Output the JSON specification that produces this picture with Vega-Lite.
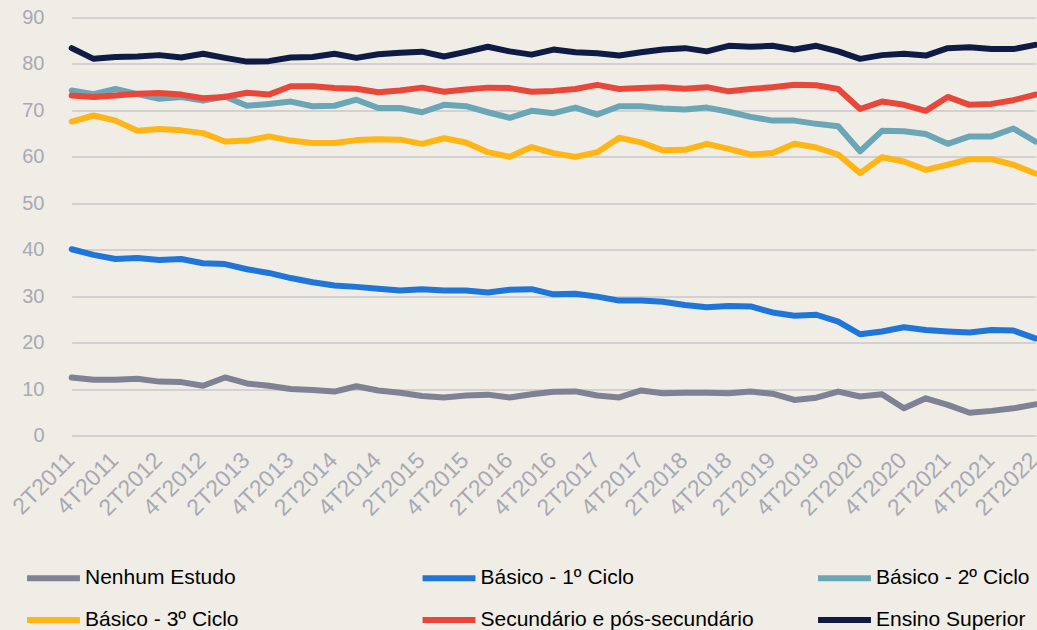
{
  "$schema": "https://vega.github.io/schema/vega-lite/v6.json",
  "autosize": "none",
  "width": 975,
  "height": 418,
  "padding": {"left": 62, "top": 17.5, "right": 0, "bottom": 194.5},
  "background": "#f0ede7",
  "config": {
    "view": {"stroke": null},
    "font": "Liberation Sans"
  },
  "datasets": {
    "d": [
      {"q":"2T2011","s":"Nenhum Estudo","v":12.5},{"q":"3T2011","s":"Nenhum Estudo","v":12.0},{"q":"4T2011","s":"Nenhum Estudo","v":12.0},{"q":"1T2012","s":"Nenhum Estudo","v":12.2},{"q":"2T2012","s":"Nenhum Estudo","v":11.6},{"q":"3T2012","s":"Nenhum Estudo","v":11.5},{"q":"4T2012","s":"Nenhum Estudo","v":10.7},{"q":"1T2013","s":"Nenhum Estudo","v":12.5},{"q":"2T2013","s":"Nenhum Estudo","v":11.2},{"q":"3T2013","s":"Nenhum Estudo","v":10.7},{"q":"4T2013","s":"Nenhum Estudo","v":10.0},{"q":"1T2014","s":"Nenhum Estudo","v":9.8},{"q":"2T2014","s":"Nenhum Estudo","v":9.45},{"q":"3T2014","s":"Nenhum Estudo","v":10.6},{"q":"4T2014","s":"Nenhum Estudo","v":9.7},{"q":"1T2015","s":"Nenhum Estudo","v":9.2},{"q":"2T2015","s":"Nenhum Estudo","v":8.5},{"q":"3T2015","s":"Nenhum Estudo","v":8.2},{"q":"4T2015","s":"Nenhum Estudo","v":8.6},{"q":"1T2016","s":"Nenhum Estudo","v":8.8},{"q":"2T2016","s":"Nenhum Estudo","v":8.2},{"q":"3T2016","s":"Nenhum Estudo","v":8.9},{"q":"4T2016","s":"Nenhum Estudo","v":9.4},{"q":"1T2017","s":"Nenhum Estudo","v":9.5},{"q":"2T2017","s":"Nenhum Estudo","v":8.6},{"q":"3T2017","s":"Nenhum Estudo","v":8.2},{"q":"4T2017","s":"Nenhum Estudo","v":9.7},{"q":"1T2018","s":"Nenhum Estudo","v":9.1},{"q":"2T2018","s":"Nenhum Estudo","v":9.2},{"q":"3T2018","s":"Nenhum Estudo","v":9.2},{"q":"4T2018","s":"Nenhum Estudo","v":9.1},{"q":"1T2019","s":"Nenhum Estudo","v":9.45},{"q":"2T2019","s":"Nenhum Estudo","v":9.0},{"q":"3T2019","s":"Nenhum Estudo","v":7.65},{"q":"4T2019","s":"Nenhum Estudo","v":8.15},{"q":"1T2020","s":"Nenhum Estudo","v":9.45},{"q":"2T2020","s":"Nenhum Estudo","v":8.4},{"q":"3T2020","s":"Nenhum Estudo","v":8.9},{"q":"4T2020","s":"Nenhum Estudo","v":5.85},{"q":"1T2021","s":"Nenhum Estudo","v":8.0},{"q":"2T2021","s":"Nenhum Estudo","v":6.6},{"q":"3T2021","s":"Nenhum Estudo","v":4.9},{"q":"4T2021","s":"Nenhum Estudo","v":5.3},{"q":"1T2022","s":"Nenhum Estudo","v":5.85},{"q":"2T2022","s":"Nenhum Estudo","v":6.7},
      {"q":"2T2011","s":"Básico - 1º Ciclo","v":40.1},{"q":"3T2011","s":"Básico - 1º Ciclo","v":38.9},{"q":"4T2011","s":"Básico - 1º Ciclo","v":38.0},{"q":"1T2012","s":"Básico - 1º Ciclo","v":38.2},{"q":"2T2012","s":"Básico - 1º Ciclo","v":37.8},{"q":"3T2012","s":"Básico - 1º Ciclo","v":38.0},{"q":"4T2012","s":"Básico - 1º Ciclo","v":37.1},{"q":"1T2013","s":"Básico - 1º Ciclo","v":36.9},{"q":"2T2013","s":"Básico - 1º Ciclo","v":35.8},{"q":"3T2013","s":"Básico - 1º Ciclo","v":35.0},{"q":"4T2013","s":"Básico - 1º Ciclo","v":33.9},{"q":"1T2014","s":"Básico - 1º Ciclo","v":33.0},{"q":"2T2014","s":"Básico - 1º Ciclo","v":32.3},{"q":"3T2014","s":"Básico - 1º Ciclo","v":32.0},{"q":"4T2014","s":"Básico - 1º Ciclo","v":31.6},{"q":"1T2015","s":"Básico - 1º Ciclo","v":31.2},{"q":"2T2015","s":"Básico - 1º Ciclo","v":31.5},{"q":"3T2015","s":"Básico - 1º Ciclo","v":31.2},{"q":"4T2015","s":"Básico - 1º Ciclo","v":31.2},{"q":"1T2016","s":"Básico - 1º Ciclo","v":30.8},{"q":"2T2016","s":"Básico - 1º Ciclo","v":31.4},{"q":"3T2016","s":"Básico - 1º Ciclo","v":31.5},{"q":"4T2016","s":"Básico - 1º Ciclo","v":30.4},{"q":"1T2017","s":"Básico - 1º Ciclo","v":30.5},{"q":"2T2017","s":"Básico - 1º Ciclo","v":29.9},{"q":"3T2017","s":"Básico - 1º Ciclo","v":29.05},{"q":"4T2017","s":"Básico - 1º Ciclo","v":29.05},{"q":"1T2018","s":"Básico - 1º Ciclo","v":28.8},{"q":"2T2018","s":"Básico - 1º Ciclo","v":28.1},{"q":"3T2018","s":"Básico - 1º Ciclo","v":27.6},{"q":"4T2018","s":"Básico - 1º Ciclo","v":27.9},{"q":"1T2019","s":"Básico - 1º Ciclo","v":27.8},{"q":"2T2019","s":"Básico - 1º Ciclo","v":26.5},{"q":"3T2019","s":"Básico - 1º Ciclo","v":25.8},{"q":"4T2019","s":"Básico - 1º Ciclo","v":26.0},{"q":"1T2020","s":"Básico - 1º Ciclo","v":24.5},{"q":"2T2020","s":"Básico - 1º Ciclo","v":21.8},{"q":"3T2020","s":"Básico - 1º Ciclo","v":22.4},{"q":"4T2020","s":"Básico - 1º Ciclo","v":23.3},{"q":"1T2021","s":"Básico - 1º Ciclo","v":22.7},{"q":"2T2021","s":"Básico - 1º Ciclo","v":22.4},{"q":"3T2021","s":"Básico - 1º Ciclo","v":22.2},{"q":"4T2021","s":"Básico - 1º Ciclo","v":22.7},{"q":"1T2022","s":"Básico - 1º Ciclo","v":22.6},{"q":"2T2022","s":"Básico - 1º Ciclo","v":20.9},
      {"q":"2T2011","s":"Básico - 2º Ciclo","v":74.3},{"q":"3T2011","s":"Básico - 2º Ciclo","v":73.5},{"q":"4T2011","s":"Básico - 2º Ciclo","v":74.6},{"q":"1T2012","s":"Básico - 2º Ciclo","v":73.5},{"q":"2T2012","s":"Básico - 2º Ciclo","v":72.5},{"q":"3T2012","s":"Básico - 2º Ciclo","v":72.9},{"q":"4T2012","s":"Básico - 2º Ciclo","v":72.1},{"q":"1T2013","s":"Básico - 2º Ciclo","v":73.0},{"q":"2T2013","s":"Básico - 2º Ciclo","v":71.0},{"q":"3T2013","s":"Básico - 2º Ciclo","v":71.4},{"q":"4T2013","s":"Básico - 2º Ciclo","v":71.9},{"q":"1T2014","s":"Básico - 2º Ciclo","v":70.9},{"q":"2T2014","s":"Básico - 2º Ciclo","v":71.0},{"q":"3T2014","s":"Básico - 2º Ciclo","v":72.3},{"q":"4T2014","s":"Básico - 2º Ciclo","v":70.5},{"q":"1T2015","s":"Básico - 2º Ciclo","v":70.5},{"q":"2T2015","s":"Básico - 2º Ciclo","v":69.6},{"q":"3T2015","s":"Básico - 2º Ciclo","v":71.2},{"q":"4T2015","s":"Básico - 2º Ciclo","v":70.9},{"q":"1T2016","s":"Básico - 2º Ciclo","v":69.6},{"q":"2T2016","s":"Básico - 2º Ciclo","v":68.4},{"q":"3T2016","s":"Básico - 2º Ciclo","v":69.9},{"q":"4T2016","s":"Básico - 2º Ciclo","v":69.4},{"q":"1T2017","s":"Básico - 2º Ciclo","v":70.6},{"q":"2T2017","s":"Básico - 2º Ciclo","v":69.1},{"q":"3T2017","s":"Básico - 2º Ciclo","v":70.9},{"q":"4T2017","s":"Básico - 2º Ciclo","v":70.9},{"q":"1T2018","s":"Básico - 2º Ciclo","v":70.4},{"q":"2T2018","s":"Básico - 2º Ciclo","v":70.2},{"q":"3T2018","s":"Básico - 2º Ciclo","v":70.6},{"q":"4T2018","s":"Básico - 2º Ciclo","v":69.7},{"q":"1T2019","s":"Básico - 2º Ciclo","v":68.6},{"q":"2T2019","s":"Básico - 2º Ciclo","v":67.8},{"q":"3T2019","s":"Básico - 2º Ciclo","v":67.8},{"q":"4T2019","s":"Básico - 2º Ciclo","v":67.1},{"q":"1T2020","s":"Básico - 2º Ciclo","v":66.6},{"q":"2T2020","s":"Básico - 2º Ciclo","v":61.2},{"q":"3T2020","s":"Básico - 2º Ciclo","v":65.6},{"q":"4T2020","s":"Básico - 2º Ciclo","v":65.5},{"q":"1T2021","s":"Básico - 2º Ciclo","v":64.9},{"q":"2T2021","s":"Básico - 2º Ciclo","v":62.8},{"q":"3T2021","s":"Básico - 2º Ciclo","v":64.4},{"q":"4T2021","s":"Básico - 2º Ciclo","v":64.4},{"q":"1T2022","s":"Básico - 2º Ciclo","v":66.1},{"q":"2T2022","s":"Básico - 2º Ciclo","v":63.3},
      {"q":"2T2011","s":"Básico - 3º Ciclo","v":67.6},{"q":"3T2011","s":"Básico - 3º Ciclo","v":68.9},{"q":"4T2011","s":"Básico - 3º Ciclo","v":67.8},{"q":"1T2012","s":"Básico - 3º Ciclo","v":65.6},{"q":"2T2012","s":"Básico - 3º Ciclo","v":66.0},{"q":"3T2012","s":"Básico - 3º Ciclo","v":65.7},{"q":"4T2012","s":"Básico - 3º Ciclo","v":65.1},{"q":"1T2013","s":"Básico - 3º Ciclo","v":63.3},{"q":"2T2013","s":"Básico - 3º Ciclo","v":63.5},{"q":"3T2013","s":"Básico - 3º Ciclo","v":64.4},{"q":"4T2013","s":"Básico - 3º Ciclo","v":63.5},{"q":"1T2014","s":"Básico - 3º Ciclo","v":63.0},{"q":"2T2014","s":"Básico - 3º Ciclo","v":63.0},{"q":"3T2014","s":"Básico - 3º Ciclo","v":63.6},{"q":"4T2014","s":"Básico - 3º Ciclo","v":63.8},{"q":"1T2015","s":"Básico - 3º Ciclo","v":63.7},{"q":"2T2015","s":"Básico - 3º Ciclo","v":62.8},{"q":"3T2015","s":"Básico - 3º Ciclo","v":64.0},{"q":"4T2015","s":"Básico - 3º Ciclo","v":63.1},{"q":"1T2016","s":"Básico - 3º Ciclo","v":61.0},{"q":"2T2016","s":"Básico - 3º Ciclo","v":60.0},{"q":"3T2016","s":"Básico - 3º Ciclo","v":62.1},{"q":"4T2016","s":"Básico - 3º Ciclo","v":60.8},{"q":"1T2017","s":"Básico - 3º Ciclo","v":60.0},{"q":"2T2017","s":"Básico - 3º Ciclo","v":61.0},{"q":"3T2017","s":"Básico - 3º Ciclo","v":64.1},{"q":"4T2017","s":"Básico - 3º Ciclo","v":63.1},{"q":"1T2018","s":"Básico - 3º Ciclo","v":61.4},{"q":"2T2018","s":"Básico - 3º Ciclo","v":61.5},{"q":"3T2018","s":"Básico - 3º Ciclo","v":62.8},{"q":"4T2018","s":"Básico - 3º Ciclo","v":61.7},{"q":"1T2019","s":"Básico - 3º Ciclo","v":60.5},{"q":"2T2019","s":"Básico - 3º Ciclo","v":60.8},{"q":"3T2019","s":"Básico - 3º Ciclo","v":62.8},{"q":"4T2019","s":"Básico - 3º Ciclo","v":62.0},{"q":"1T2020","s":"Básico - 3º Ciclo","v":60.5},{"q":"2T2020","s":"Básico - 3º Ciclo","v":56.5},{"q":"3T2020","s":"Básico - 3º Ciclo","v":59.9},{"q":"4T2020","s":"Básico - 3º Ciclo","v":59.0},{"q":"1T2021","s":"Básico - 3º Ciclo","v":57.2},{"q":"2T2021","s":"Básico - 3º Ciclo","v":58.3},{"q":"3T2021","s":"Básico - 3º Ciclo","v":59.5},{"q":"4T2021","s":"Básico - 3º Ciclo","v":59.5},{"q":"1T2022","s":"Básico - 3º Ciclo","v":58.3},{"q":"2T2022","s":"Básico - 3º Ciclo","v":56.4},
      {"q":"2T2011","s":"Secundário e pós-secundário","v":73.2},{"q":"3T2011","s":"Secundário e pós-secundário","v":72.9},{"q":"4T2011","s":"Secundário e pós-secundário","v":73.2},{"q":"1T2012","s":"Secundário e pós-secundário","v":73.6},{"q":"2T2012","s":"Secundário e pós-secundário","v":73.75},{"q":"3T2012","s":"Secundário e pós-secundário","v":73.4},{"q":"4T2012","s":"Secundário e pós-secundário","v":72.6},{"q":"1T2013","s":"Secundário e pós-secundário","v":72.9},{"q":"2T2013","s":"Secundário e pós-secundário","v":73.8},{"q":"3T2013","s":"Secundário e pós-secundário","v":73.4},{"q":"4T2013","s":"Secundário e pós-secundário","v":75.2},{"q":"1T2014","s":"Secundário e pós-secundário","v":75.2},{"q":"2T2014","s":"Secundário e pós-secundário","v":74.8},{"q":"3T2014","s":"Secundário e pós-secundário","v":74.65},{"q":"4T2014","s":"Secundário e pós-secundário","v":73.9},{"q":"1T2015","s":"Secundário e pós-secundário","v":74.3},{"q":"2T2015","s":"Secundário e pós-secundário","v":74.9},{"q":"3T2015","s":"Secundário e pós-secundário","v":74.0},{"q":"4T2015","s":"Secundário e pós-secundário","v":74.5},{"q":"1T2016","s":"Secundário e pós-secundário","v":74.9},{"q":"2T2016","s":"Secundário e pós-secundário","v":74.8},{"q":"3T2016","s":"Secundário e pós-secundário","v":74.0},{"q":"4T2016","s":"Secundário e pós-secundário","v":74.2},{"q":"1T2017","s":"Secundário e pós-secundário","v":74.6},{"q":"2T2017","s":"Secundário e pós-secundário","v":75.5},{"q":"3T2017","s":"Secundário e pós-secundário","v":74.6},{"q":"4T2017","s":"Secundário e pós-secundário","v":74.8},{"q":"1T2018","s":"Secundário e pós-secundário","v":75.0},{"q":"2T2018","s":"Secundário e pós-secundário","v":74.65},{"q":"3T2018","s":"Secundário e pós-secundário","v":75.0},{"q":"4T2018","s":"Secundário e pós-secundário","v":74.1},{"q":"1T2019","s":"Secundário e pós-secundário","v":74.6},{"q":"2T2019","s":"Secundário e pós-secundário","v":75.0},{"q":"3T2019","s":"Secundário e pós-secundário","v":75.5},{"q":"4T2019","s":"Secundário e pós-secundário","v":75.4},{"q":"1T2020","s":"Secundário e pós-secundário","v":74.6},{"q":"2T2020","s":"Secundário e pós-secundário","v":70.3},{"q":"3T2020","s":"Secundário e pós-secundário","v":71.9},{"q":"4T2020","s":"Secundário e pós-secundário","v":71.2},{"q":"1T2021","s":"Secundário e pós-secundário","v":69.9},{"q":"2T2021","s":"Secundário e pós-secundário","v":72.9},{"q":"3T2021","s":"Secundário e pós-secundário","v":71.2},{"q":"4T2021","s":"Secundário e pós-secundário","v":71.4},{"q":"1T2022","s":"Secundário e pós-secundário","v":72.2},{"q":"2T2022","s":"Secundário e pós-secundário","v":73.4},
      {"q":"2T2011","s":"Ensino Superior","v":83.4},{"q":"3T2011","s":"Ensino Superior","v":81.1},{"q":"4T2011","s":"Ensino Superior","v":81.5},{"q":"1T2012","s":"Ensino Superior","v":81.6},{"q":"2T2012","s":"Ensino Superior","v":81.9},{"q":"3T2012","s":"Ensino Superior","v":81.4},{"q":"4T2012","s":"Ensino Superior","v":82.2},{"q":"1T2013","s":"Ensino Superior","v":81.3},{"q":"2T2013","s":"Ensino Superior","v":80.5},{"q":"3T2013","s":"Ensino Superior","v":80.6},{"q":"4T2013","s":"Ensino Superior","v":81.4},{"q":"1T2014","s":"Ensino Superior","v":81.5},{"q":"2T2014","s":"Ensino Superior","v":82.2},{"q":"3T2014","s":"Ensino Superior","v":81.3},{"q":"4T2014","s":"Ensino Superior","v":82.1},{"q":"1T2015","s":"Ensino Superior","v":82.4},{"q":"2T2015","s":"Ensino Superior","v":82.65},{"q":"3T2015","s":"Ensino Superior","v":81.6},{"q":"4T2015","s":"Ensino Superior","v":82.6},{"q":"1T2016","s":"Ensino Superior","v":83.7},{"q":"2T2016","s":"Ensino Superior","v":82.7},{"q":"3T2016","s":"Ensino Superior","v":82.0},{"q":"4T2016","s":"Ensino Superior","v":83.1},{"q":"1T2017","s":"Ensino Superior","v":82.5},{"q":"2T2017","s":"Ensino Superior","v":82.3},{"q":"3T2017","s":"Ensino Superior","v":81.8},{"q":"4T2017","s":"Ensino Superior","v":82.5},{"q":"1T2018","s":"Ensino Superior","v":83.1},{"q":"2T2018","s":"Ensino Superior","v":83.4},{"q":"3T2018","s":"Ensino Superior","v":82.7},{"q":"4T2018","s":"Ensino Superior","v":83.9},{"q":"1T2019","s":"Ensino Superior","v":83.7},{"q":"2T2019","s":"Ensino Superior","v":83.9},{"q":"3T2019","s":"Ensino Superior","v":83.1},{"q":"4T2019","s":"Ensino Superior","v":83.9},{"q":"1T2020","s":"Ensino Superior","v":82.7},{"q":"2T2020","s":"Ensino Superior","v":81.1},{"q":"3T2020","s":"Ensino Superior","v":81.9},{"q":"4T2020","s":"Ensino Superior","v":82.2},{"q":"1T2021","s":"Ensino Superior","v":81.8},{"q":"2T2021","s":"Ensino Superior","v":83.4},{"q":"3T2021","s":"Ensino Superior","v":83.6},{"q":"4T2021","s":"Ensino Superior","v":83.2},{"q":"1T2022","s":"Ensino Superior","v":83.2},{"q":"2T2022","s":"Ensino Superior","v":84.1}
    ]
  },
  "data": {"name": "d"},
  "mark": {"type": "line", "strokeWidth": 6, "strokeJoin": "round", "strokeCap": "round"},
  "encoding": {
    "x": {
      "field": "q", "type": "ordinal", "sort": null,
      "scale": {"type": "point", "padding": 0, "range": [9.7, 973.3]},
      "axis": {
        "title": null, "domain": false, "ticks": false, "grid": false,
        "values": ["2T2011","4T2011","2T2012","4T2012","2T2013","4T2013","2T2014","4T2014","2T2015","4T2015","2T2016","4T2016","2T2017","4T2017","2T2018","4T2018","2T2019","4T2019","2T2020","4T2020","2T2021","4T2021","2T2022"],
        "labelAngle": -45, "labelPadding": 13, "labelOffset": -9, "labelOverlap": false,
        "labelFont": "Liberation Sans", "labelFontSize": 23, "labelColor": "#a9a9b3"
      }
    },
    "y": {
      "field": "v", "type": "quantitative",
      "scale": {"domain": [0, 90], "nice": false},
      "axis": {
        "title": null, "domain": false, "ticks": false,
        "values": [0,10,20,30,40,50,60,70,80,90], "grid": true, "gridColor": "#c9c6c8", "gridWidth": 1.3,
        "labelPadding": 18, "labelFont": "Liberation Sans", "labelFontSize": 20, "labelColor": "#a9a9b3"
      }
    },
    "color": {
      "field": "s", "type": "nominal", "sort": null,
      "scale": {
        "domain": ["Nenhum Estudo","Básico - 1º Ciclo","Básico - 2º Ciclo","Básico - 3º Ciclo","Secundário e pós-secundário","Ensino Superior"],
        "range": ["#7f8194","#1f75d8","#6aa6b5","#ffb514","#e8473a","#0f1a45"]
      },
      "legend": {
        "title": null, "orient": "none", "legendX": -38, "legendY": 531, "direction": "horizontal",
        "columns": 3, "gridAlign": "all", "columnPadding": 51.5, "rowPadding": -12,
        "symbolType": "stroke", "symbolStrokeWidth": 6, "symbolSize": 2800,
        "labelFont": "Liberation Sans", "labelFontSize": 21, "labelColor": "#000000", "labelOffset": 2, "labelLimit": 400
      }
    }
  }
}
